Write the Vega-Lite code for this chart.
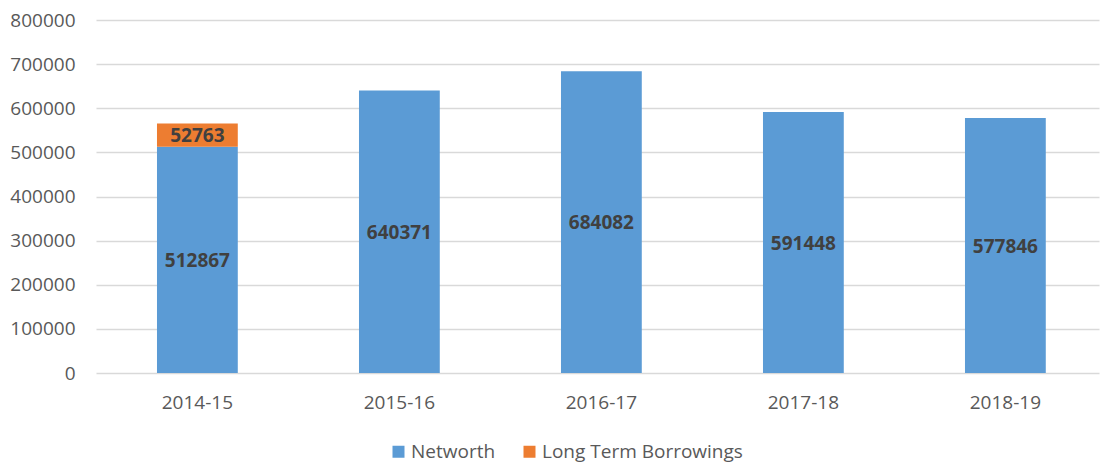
{
  "$schema": "https://vega.github.io/schema/vega-lite/v6.json",
  "width": 1003,
  "height": 353,
  "autosize": {"type": "none"},
  "padding": {"left": 96, "top": 20, "right": 2, "bottom": 91},
  "background": "#ffffff",
  "config": {
    "view": {"stroke": null},
    "font": "Open Sans",
    "axis": {"labelFont": "Open Sans", "labelFontSize": 19, "labelColor": "#595959", "ticks": false, "tickSize": 0, "domain": false, "title": null},
    "legend": {"labelFont": "Open Sans", "labelFontSize": 19, "labelColor": "#595959", "labelLimit": 400}
  },
  "data": {
    "values": [
      {"year": "2014-15", "series": "Networth", "value": 512867},
      {"year": "2014-15", "series": "Long Term Borrowings", "value": 52763},
      {"year": "2015-16", "series": "Networth", "value": 640371},
      {"year": "2016-17", "series": "Networth", "value": 684082},
      {"year": "2017-18", "series": "Networth", "value": 591448},
      {"year": "2018-19", "series": "Networth", "value": 577846}
    ]
  },
  "transform": [
    {"stack": "value", "groupby": ["year"], "sort": [{"field": "series", "order": "descending"}], "as": ["v0", "v1"]}
  ],
  "encoding": {
    "x": {
      "field": "year",
      "type": "nominal",
      "sort": null,
      "scale": {"paddingInner": 0.6, "paddingOuter": 0.2827, "align": 0.534},
      "axis": {"labelAngle": 0, "labelPadding": 20, "grid": false}
    }
  },
  "layer": [
    {
      "mark": {"type": "bar"},
      "encoding": {
        "y": {
          "field": "v0",
          "type": "quantitative",
          "scale": {"domain": [0, 800000], "nice": false},
          "axis": {"values": [0, 100000, 200000, 300000, 400000, 500000, 600000, 700000, 800000], "format": "d", "grid": true, "gridColor": "#D9D9D9", "gridWidth": 1.5, "labelPadding": 21}
        },
        "y2": {"field": "v1"},
        "color": {
          "field": "series",
          "type": "nominal",
          "scale": {"domain": ["Networth", "Long Term Borrowings"], "range": ["#5B9BD5", "#ED7D31"]},
          "legend": {"orient": "none", "legendX": 293, "legendY": 422, "direction": "horizontal", "title": null, "symbolType": "square", "symbolSize": 144, "symbolStrokeWidth": 0, "labelOffset": 3, "columnPadding": 24}
        }
      }
    },
    {
      "transform": [
        {"fold": ["v0", "v1"], "as": ["edge", "pos"]}
      ],
      "mark": {"type": "text", "font": "Open Sans", "fontSize": 19, "fontWeight": "bold", "color": "#404040", "baseline": "middle", "dy": 1},
      "encoding": {
        "y": {"aggregate": "mean", "field": "pos", "type": "quantitative"},
        "detail": {"field": "series", "type": "nominal"},
        "text": {"field": "value", "type": "quantitative", "format": "d"}
      }
    }
  ]
}
